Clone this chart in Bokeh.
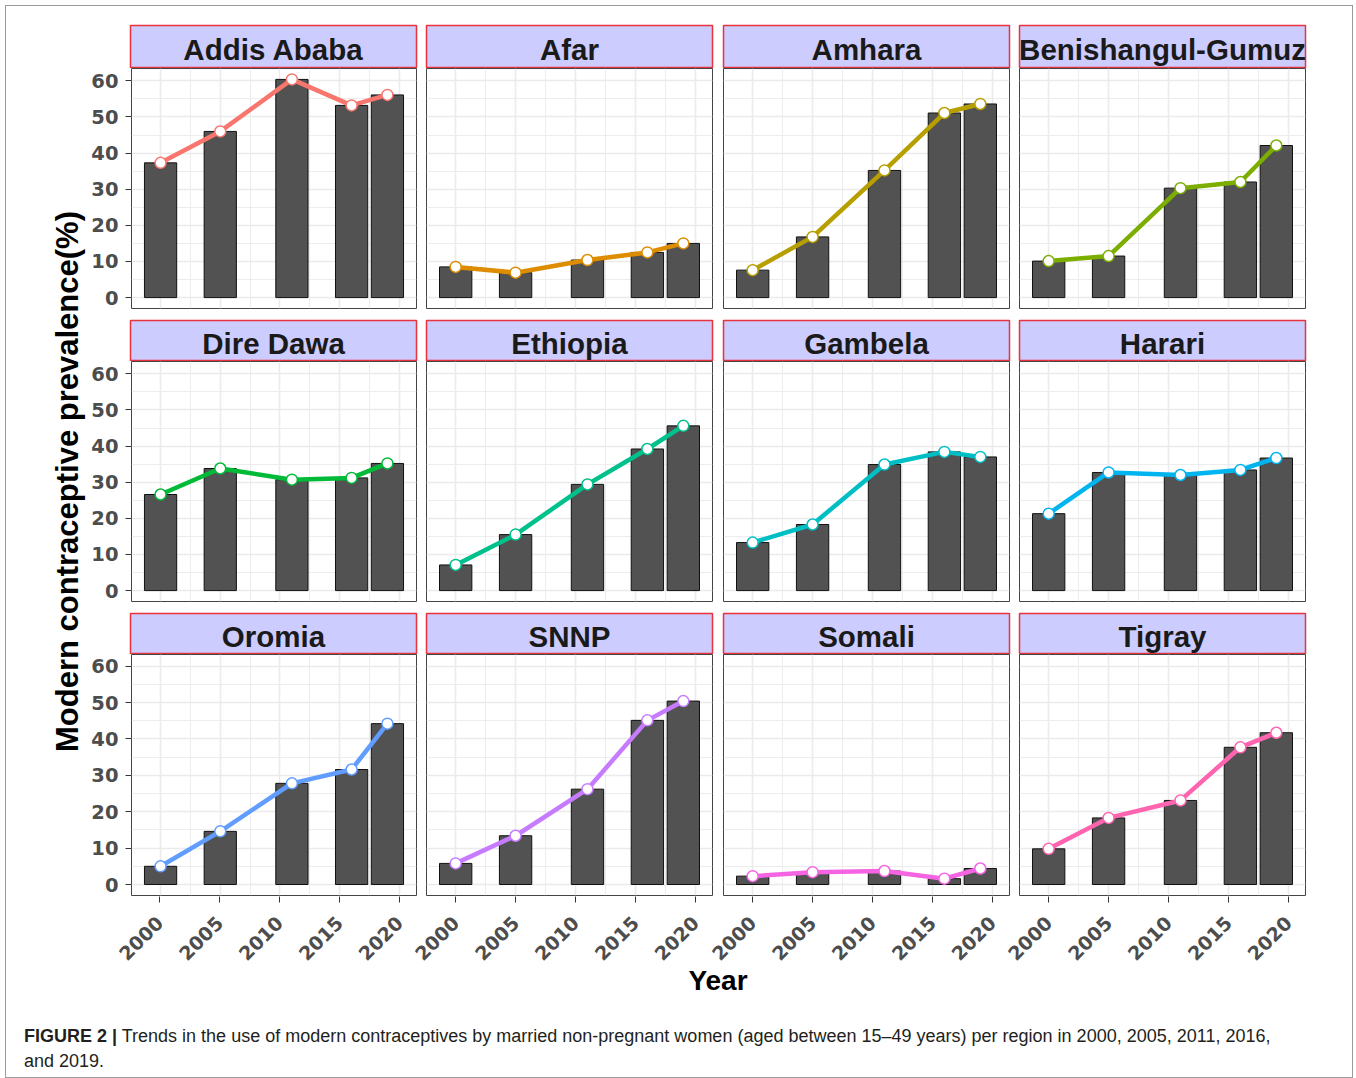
import math
from bokeh.plotting import figure
from bokeh.layouts import row, column
from bokeh.models import Range1d, FixedTicker, Grid, LinearAxis, Label, Div, ColumnDataSource
from bokeh.embed import file_html
from bokeh.resources import INLINE

# ---------------- data ----------------
regions = ["Addis Ababa", "Afar", "Amhara", "Benishangul-Gumuz",
           "Dire Dawa", "Ethiopia", "Gambela", "Harari",
           "Oromia", "SNNP", "Somali", "Tigray"]
years = [2000, 2005, 2011, 2016, 2019]

addis_ababa = [37.3, 46.0, 60.4, 53.2, 56.1]
afar = [8.5, 6.9, 10.4, 12.5, 15.0]
amhara = [7.6, 16.8, 35.2, 51.1, 53.6]
benishangul_gumuz = [10.1, 11.5, 30.3, 32.0, 42.1]
dire_dawa = [26.6, 33.8, 30.7, 31.2, 35.2]
ethiopia = [7.1, 15.5, 29.4, 39.2, 45.6]
gambela = [13.3, 18.3, 34.9, 38.4, 37.0]
harari = [21.3, 32.7, 32.0, 33.4, 36.7]
oromia = [5.0, 14.6, 27.8, 31.6, 44.2]
snnp = [5.8, 13.4, 26.2, 45.1, 50.4]
somali = [2.3, 3.4, 3.7, 1.6, 4.4]
tigray = [9.8, 18.3, 23.1, 37.7, 41.7]

series = [addis_ababa, afar, amhara, benishangul_gumuz, dire_dawa, ethiopia,
          gambela, harari, oromia, snnp, somali, tigray]

colors = ["#F8766D", "#DE8C00", "#B79F00", "#7CAE00", "#00BA38", "#00C08B",
          "#00BFC4", "#00B4F0", "#619CFF", "#C77CFF", "#F564E3", "#FF64B0"]

x_ticks = [2000, 2005, 2010, 2015, 2020]
x_tick_labels = ["2000", "2005", "2010", "2015", "2020"]
x_minor = [2002.5, 2007.5, 2012.5, 2017.5]
y_ticks = [0, 10, 20, 30, 40, 50, 60]
y_minor = [5, 15, 25, 35, 45, 55]

y_title = "Modern contraceptive prevalence(%)"
x_title = "Year"
caption_bold = "FIGURE 2 |"
caption_text = ("Trends in the use of modern contraceptives by married non-pregnant women "
                "(aged between 15\u201349 years) per region in 2000, 2005, 2011, 2016,")
caption_text2 = "and 2019."

# ---------------- layout constants ----------------
X0, X1 = 1997.565, 2021.435          # panel x range (ggplot-style expansion)
FRAME_W = 286
LEFT = [42, 5, 6, 5]
RIGHT = [5, 5, 5, 5]
STRIP_TOP = [19, 9, 9]
STRIP_H = [43, 41, 41]
PANEL_H = [240, 240, 241]
PANEL_BOTTOM = [3, 3, 1]
Y_RANGES = [(-3.02, 63.42), (-3.02, 63.42), (-3.02, 63.2)]
XA_BOTTOM = 103
YT_W = 82
PAGE_W = 1346
TICK_FONT = "DejaVu Sans"
TEXT_FONT = "Liberation Sans"


def make_strip(name, ci, ri):
    s = figure(width=LEFT[ci] + FRAME_W + RIGHT[ci], height=STRIP_TOP[ri] + STRIP_H[ri],
               x_range=Range1d(0, 1), y_range=Range1d(0, 1),
               x_axis_type=None, y_axis_type=None, toolbar_location=None,
               output_backend="svg",
               min_border_left=LEFT[ci], min_border_right=RIGHT[ci],
               min_border_top=STRIP_TOP[ri], min_border_bottom=0,
               background_fill_color="#CCCCFF", border_fill_color="white",
               outline_line_color="#E8323C", outline_line_width=1.5)
    s.add_layout(Label(x=0.5, y=0.44, text=name, text_align="center",
                       text_baseline="middle", text_font=TEXT_FONT,
                       text_font_style="bold", text_font_size="29.5px",
                       text_color="#1A1A1A"))
    return s


def make_panel(idx, ci, ri):
    bottom = PANEL_BOTTOM[ri]
    p = figure(width=LEFT[ci] + FRAME_W + RIGHT[ci], height=PANEL_H[ri] + bottom,
               x_range=Range1d(X0, X1), y_range=Range1d(*Y_RANGES[ri]),
               x_axis_type=None, y_axis_type=None, toolbar_location=None,
               output_backend="svg",
               min_border_left=LEFT[ci], min_border_right=RIGHT[ci],
               min_border_top=0, min_border_bottom=bottom,
               background_fill_color="white", border_fill_color="white",
               outline_line_color="#444444", outline_line_width=1)
    p.add_layout(Grid(dimension=0, ticker=FixedTicker(ticks=x_ticks, minor_ticks=x_minor),
                      grid_line_color="#EBEBEB", grid_line_width=1.6,
                      minor_grid_line_color="#EBEBEB", minor_grid_line_width=0.9))
    p.add_layout(Grid(dimension=1, ticker=FixedTicker(ticks=y_ticks, minor_ticks=y_minor),
                      grid_line_color="#EBEBEB", grid_line_width=1.6,
                      minor_grid_line_color="#EBEBEB", minor_grid_line_width=0.9))
    if ci == 0:
        ax = LinearAxis(ticker=FixedTicker(ticks=y_ticks),
                        major_label_text_font=TICK_FONT, major_label_text_font_style="bold",
                        major_label_text_font_size="19.5px", major_label_text_color="#4D4D4D",
                        major_tick_out=6, major_tick_in=0, major_tick_line_color="#333333",
                        minor_tick_line_color=None, axis_line_color=None,
                        major_label_standoff=7)
        p.add_layout(ax, "left")

    src = ColumnDataSource(dict(year=years, value=series[idx]))
    p.vbar(x="year", top="value", bottom=0, width=2.7, source=src,
           fill_color="#525252", line_color="#111111", line_width=1)
    p.line(x="year", y="value", source=src, line_color=colors[idx],
           line_width=4.5, line_join="round")
    p.scatter(x="year", y="value", source=src, marker="circle", size=11,
              fill_color="white", line_color=colors[idx], line_width=1.5)
    return p


grid_rows = []
for ri in range(3):
    strips = []
    panels = []
    for ci in range(4):
        idx = ri * 4 + ci
        strips.append(make_strip(regions[idx], ci, ri))
        panels.append(make_panel(idx, ci, ri))
    grid_rows.append(row(*strips, spacing=0))
    grid_rows.append(row(*panels, spacing=0))

# ---- shared bottom axis row: one axis whose scale matches every panel's x scale ----
col_widths = [LEFT[c] + FRAME_W + RIGHT[c] for c in range(4)]
GRID_W = sum(col_widths)
frame_lefts = []
acc = 0
for c in range(4):
    frame_lefts.append(acc + LEFT[c])
    acc += col_widths[c]
XA_FRAME_W = frame_lefts[3] + FRAME_W - frame_lefts[0]
yrs_per_px = (X1 - X0) / FRAME_W
offsets = [(fl - frame_lefts[0]) * yrs_per_px for fl in frame_lefts]
axis_ticks = [t + off for off in offsets for t in x_ticks]
axis_labels = {t + off: lab for off in offsets for t, lab in zip(x_ticks, x_tick_labels)}

xa = figure(width=GRID_W, height=1 + XA_BOTTOM,
            x_range=Range1d(X0, X0 + XA_FRAME_W * yrs_per_px), y_range=Range1d(0, 1),
            x_axis_type=None, y_axis_type=None, toolbar_location=None,
            output_backend="svg",
            min_border_left=frame_lefts[0], min_border_right=RIGHT[3],
            min_border_top=0, min_border_bottom=XA_BOTTOM,
            outline_line_color=None, background_fill_color="white",
            border_fill_color="white")
xax = LinearAxis(ticker=FixedTicker(ticks=axis_ticks),
                 major_label_overrides=axis_labels,
                 major_label_orientation=math.pi / 4,
                 major_label_text_font=TICK_FONT, major_label_text_font_style="bold",
                 major_label_text_font_size="19px", major_label_text_color="#4D4D4D",
                 major_tick_out=5, major_tick_in=1, major_tick_line_color="#333333",
                 minor_tick_line_color=None, axis_line_color=None,
                 major_label_standoff=17,
                 axis_label=x_title, axis_label_text_font=TEXT_FONT,
                 axis_label_text_font_style="bold", axis_label_text_font_size="28px",
                 axis_label_text_color="#000000", axis_label_standoff=-5)
xa.add_layout(xax, "below")
grid_rows.append(xa)

grid_col = column(*grid_rows, spacing=0)

GRID_H = (sum(STRIP_TOP) + sum(STRIP_H) + sum(PANEL_H) + sum(PANEL_BOTTOM)
          + 1 + XA_BOTTOM)

# y-axis title
yt = figure(width=YT_W, height=GRID_H, x_range=Range1d(0, YT_W), y_range=Range1d(0, GRID_H),
            x_axis_type=None, y_axis_type=None, toolbar_location=None,
            output_backend="svg", min_border=0, outline_line_color=None,
            background_fill_color="white", border_fill_color="white")
yt.add_layout(Label(x=60.5, y=GRID_H - 475, text=y_title, angle=math.pi / 2,
                    text_align="center", text_baseline="middle",
                    text_font=TEXT_FONT, text_font_style="bold",
                    text_font_size="31px", text_color="#000000"))

CAP_H = 1077 - 6 - GRID_H
caption = Div(
    text=("<div style=\"font-family:'Liberation Sans', Arial, sans-serif; font-size:18px; "
          "line-height:25px; color:#231F20; padding:19px 0 0 13px; white-space:nowrap;\">"
          f"<b>{caption_bold}</b> {caption_text}<br>{caption_text2}</div>"),
    width=PAGE_W, height=CAP_H)

page = column(row(yt, grid_col, spacing=0), caption, spacing=0,
              width=PAGE_W, height=GRID_H + CAP_H, margin=(6, 0, 0, 6),
              styles={"outline": "1px solid #9a9a9a"})

open("out.html", "w").write(file_html(page, INLINE))
